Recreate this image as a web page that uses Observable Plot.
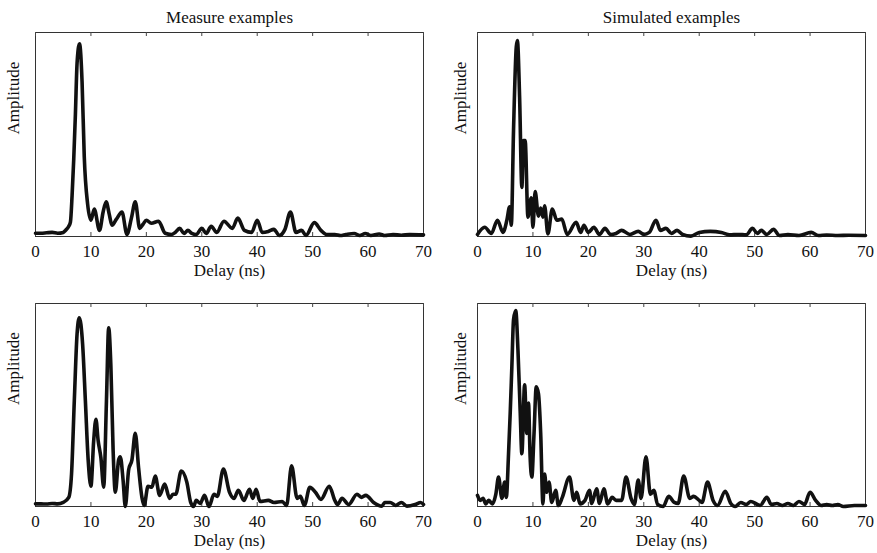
<!DOCTYPE html>
<html>
<head>
<meta charset="utf-8">
<script src="https://cdn.jsdelivr.net/npm/d3@7"></script>
<script src="https://cdn.jsdelivr.net/npm/@observablehq/plot@0.6"></script>
<style>
  body { margin: 0; background: white; }
  #chart { position: relative; width: 877px; height: 553px; background: white; }
  #chart > div { position: absolute; }
</style>
</head>
<body>
<div id="chart"></div>
<script>
// ---- Data ----
const xTicks = [0, 10, 20, 30, 40, 50, 60, 70];
const columnTitles = ["Measure examples", "Simulated examples"];
const xLabel = "Delay (ns)";
const yLabel = "Amplitude";

// Top-left: measured example 1
const delayM1 = [0,1,2,3,4,5,5.4,6,6.3,6.6,6.9,7.2,7.5,7.94,8.4,8.8,9.4,10.0,10.6,11.55,12.2,12.75,13.3,13.8,14.6,15.6,16.5,17.3,18.0,18.8,19.4,20.0,20.9,22.2,23.4,24.5,25.2,26,26.8,27.5,28.2,29,30,30.8,31.7,32.7,34,35.5,36.5,37.7,39,40,40.9,42,43,44,45,46,47,48,48.8,50.3,51.5,52.5,54,55,56,57.5,58.5,59.5,60.5,62,63,64.5,66,67.5,70];
const ampM1   = [0.016,0.016,0.018,0.02,0.016,0.02,0.03,0.05,0.07,0.2,0.38,0.6,0.85,0.945,0.76,0.39,0.16,0.08,0.135,0.03,0.12,0.17,0.11,0.055,0.085,0.12,0.01,0.09,0.17,0.04,0.06,0.08,0.065,0.075,0.016,0.01,0.02,0.04,0.015,0.03,0.015,0.01,0.04,0.015,0.05,0.02,0.075,0.04,0.09,0.03,0.02,0.08,0.02,0.025,0.035,0.005,0.035,0.12,0.02,0.03,0.005,0.068,0.03,0.01,0.01,0.005,0.01,0.015,0.005,0.015,0.005,0.012,0.005,0.01,0.006,0.01,0.008];

// Top-right: simulated example 1
const delayS1 = [0,1.3,2.5,3.6,4.6,5.3,5.8,6.1,6.5,7.0,7.2,7.6,8.0,8.3,8.6,9.1,9.7,10.0,10.4,11.0,11.4,11.8,12.1,12.7,13.5,14.3,15.2,16.2,17.8,18.6,19.2,20.0,21,22,23,24,25,26,27.5,29,30,31,32.2,33,34,35,36,37,38.5,40,42,44,45.5,47,48.5,49.6,50.5,51.2,52.2,53.4,54.5,56,58,60.2,61.5,63,65,67,70];
const ampS1   = [0.01,0.045,0.015,0.08,0.02,0.08,0.145,0.055,0.52,0.93,0.96,0.68,0.24,0.47,0.47,0.095,0.19,0.045,0.22,0.10,0.14,0.095,0.15,0.013,0.135,0.08,0.085,0.01,0.07,0.02,0.055,0.02,0.045,0.01,0.04,0.01,0.015,0.03,0.01,0.025,0.01,0.02,0.08,0.03,0.04,0.015,0.03,0.01,0.002,0.02,0.025,0.02,0.008,0.01,0.008,0.04,0.015,0.03,0.01,0.035,0.005,0.01,0.005,0.02,0.005,0.007,0.005,0.006,0.005];

// Bottom-left: measured example 2
const delayM2 = [0,1,2,3,4,5,6,6.5,7,7.5,7.9,8.5,9,9.5,10.0,10.5,10.9,11.3,11.8,12.3,12.8,13.2,13.6,14.0,14.4,15.0,15.3,15.8,16.2,16.8,17.4,18.0,18.6,19.2,19.6,20.3,21,21.6,22.4,23.3,24.2,24.8,25.3,26.3,27.3,28,28.5,29,29.7,30.5,31.3,32.2,32.8,33.9,35,35.8,36.6,37.6,38.6,39.2,39.8,40.5,42,43,44.5,45.3,46.2,47.2,47.8,48.5,49.5,50.5,51.5,53,54,54.5,55.3,56.5,58,58.8,59.6,61,62.5,63,64,65,66,67,68.5,69.5,70];
const ampM2   = [0.013,0.013,0.012,0.015,0.013,0.02,0.045,0.16,0.52,0.85,0.93,0.80,0.52,0.23,0.10,0.325,0.43,0.325,0.24,0.095,0.52,0.88,0.69,0.28,0.07,0.23,0.245,0.13,0.0,0.18,0.23,0.36,0.19,0.045,0.005,0.10,0.095,0.15,0.055,0.11,0.04,0.06,0.06,0.175,0.12,0.02,0.0,0.03,0.015,0.055,0.0,0.06,0.05,0.185,0.07,0.04,0.08,0.03,0.085,0.04,0.085,0.025,0.03,0.02,0.025,0.005,0.20,0.04,0.05,0.005,0.095,0.07,0.035,0.10,0.03,0.01,0.04,0.01,0.06,0.045,0.055,0.02,0.002,0.02,0.02,0.005,0.02,0.002,0.01,0.02,0.01];

// Bottom-right: simulated example 2
const delayS2 = [0,0.5,1.0,1.5,2.0,2.7,3.3,3.8,4.4,4.9,5.2,5.6,5.9,6.2,6.5,6.9,7.3,7.7,8.0,8.5,8.9,9.2,9.5,9.8,10.2,10.6,11.0,11.4,11.8,12.1,12.5,12.9,13.4,14.1,14.6,15.3,16.6,17.4,17.9,18.5,19.4,20.2,20.6,21.5,22,22.8,23.5,24.3,25,26,26.8,27.7,28.3,29,29.5,30.4,31.2,31.8,32.5,33.5,34.5,35.5,36.2,37.2,38.3,39,40,40.5,41.5,42.5,43.3,44.7,45.7,46.5,47.5,48.5,49.3,50.5,51,52.2,53,54,55,56,57,58,59,60,61,62,63,64,65,66,68,70];
const ampS2   = [0.055,0.03,0.04,0.013,0.03,0.013,0.06,0.145,0.04,0.12,0.045,0.26,0.46,0.69,0.92,0.965,0.77,0.47,0.26,0.60,0.36,0.51,0.24,0.145,0.36,0.59,0.555,0.36,0.013,0.16,0.07,0.12,0.02,0.08,0.005,0.045,0.145,0.03,0.07,0.013,0.03,0.08,0.015,0.087,0.015,0.087,0.013,0.045,0.03,0.03,0.145,0.04,0.01,0.13,0.04,0.245,0.06,0.08,0.01,0.0,0.05,0.02,0.015,0.15,0.04,0.05,0.03,0.02,0.12,0.03,0.005,0.075,0.015,0.0,0.02,0.01,0.025,0.01,0.005,0.045,0.01,0.015,0.005,0.015,0.005,0.025,0.01,0.07,0.03,0.005,0.01,0.005,0.01,0.0,0.005,0.005];

// ---- Drawing ----
const chart = document.getElementById("chart");

function panel(delays, amps, opts) {
  const data = delays.map((d, i) => ({delay: d, amp: amps[i]}));
  const innerH = opts.height - opts.mt - opts.mb;
  const marks = [
    Plot.frame({stroke: "#333", strokeWidth: 1}),
    Plot.tickX(xTicks, {x: d => d, insetTop: innerH - 4, stroke: "#444"}),
    Plot.tickX(xTicks, {x: d => d, insetBottom: innerH - 4, stroke: "#444"}),
    Plot.line(data, {x: "delay", y: "amp", stroke: "#111", strokeWidth: 3.6,
                     curve: "monotone-x", strokeLinejoin: "round", strokeLinecap: "round"}),
    Plot.text([xLabel], {text: d => d, frameAnchor: "bottom", dy: 27.5, lineAnchor: "top", fill: "#111"}),
    Plot.text([yLabel], {text: d => d, frameAnchor: "left", rotate: -90, dx: opts.ylabDx, fill: "#111"})
  ];
  if (opts.title) {
    marks.push(Plot.text([opts.title], {text: d => d, frameAnchor: "top", dy: -22, fill: "#111"}));
  }
  const svg = Plot.plot({
    width: opts.width, height: opts.height,
    marginTop: opts.mt, marginBottom: opts.mb, marginLeft: opts.ml, marginRight: opts.mr,
    style: {fontFamily: "'Liberation Serif', 'Times New Roman', serif", fontSize: "17px",
            background: "white", color: "#111", overflow: "visible"},
    x: {domain: [0, 70], ticks: xTicks, tickSize: 0, tickPadding: 8, label: null},
    y: {domain: [0, 1], axis: null},
    marks
  });
  const wrap = document.createElement("div");
  wrap.style.left = opts.left + "px";
  wrap.style.top = opts.top + "px";
  wrap.appendChild(svg);
  chart.appendChild(wrap);
}

panel(delayM1, ampM1, {left: 0, top: 0, width: 440, height: 290, mt: 32, mb: 54, ml: 35, mr: 17, ylabDx: -22, title: columnTitles[0]});
panel(delayS1, ampS1, {left: 440, top: 0, width: 437, height: 290, mt: 32, mb: 54, ml: 37, mr: 12, ylabDx: -17, title: columnTitles[1]});
panel(delayM2, ampM2, {left: 0, top: 290, width: 440, height: 263, mt: 13, mb: 47, ml: 35, mr: 17, ylabDx: -22});
panel(delayS2, ampS2, {left: 440, top: 290, width: 437, height: 263, mt: 13, mb: 47, ml: 37, mr: 12, ylabDx: -17});
</script>
</body>
</html>
